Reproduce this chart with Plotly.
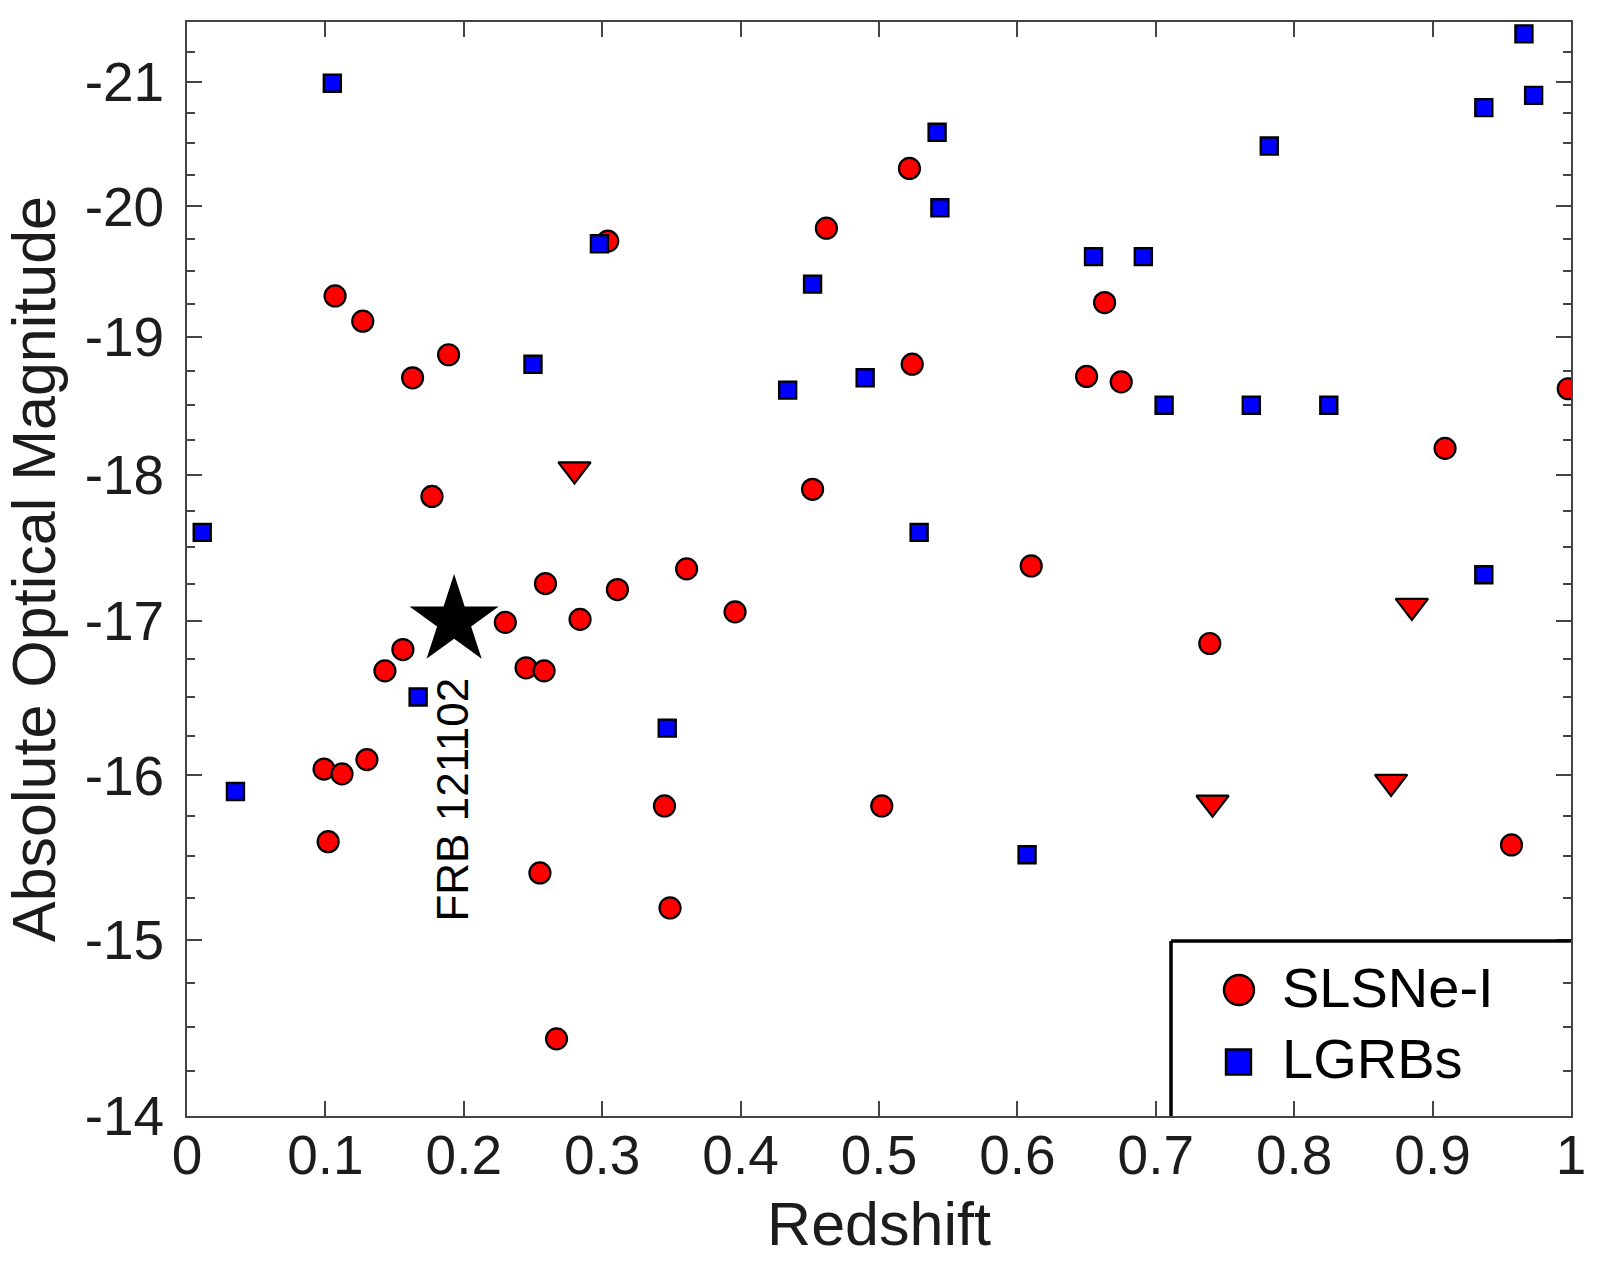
import math
import plotly.graph_objects as go

# ---------------- data ----------------
slsn_z = [0.107, 0.127, 0.189, 0.163, 0.177, 0.304, 0.462, 0.522, 0.663, 0.524,
          0.650, 0.675, 0.998, 0.909, 0.452, 0.361, 0.610, 0.259, 0.311, 0.230,
          0.284, 0.396, 0.156, 0.143, 0.245, 0.258, 0.739, 0.099, 0.112, 0.130,
          0.102, 0.345, 0.502, 0.255, 0.349, 0.957, 0.267]
slsn_M = [-19.31, -19.12, -18.87, -18.70, -17.85, -19.73, -19.83, -20.30, -19.26, -18.80,
          -18.71, -18.67, -18.62, -18.19, -17.90, -17.35, -17.37, -17.25, -17.21, -16.99,
          -17.01, -17.06, -16.81, -16.67, -16.69, -16.67, -16.85, -16.04, -16.01, -16.10,
          -15.59, -15.81, -15.81, -15.40, -15.19, -15.57, -14.43]

lgrb_z = [0.105, 0.966, 0.937, 0.973, 0.542, 0.782, 0.544, 0.298, 0.655, 0.691,
          0.452, 0.250, 0.434, 0.490, 0.706, 0.769, 0.825, 0.011, 0.529, 0.937,
          0.167, 0.347, 0.035, 0.607]
lgrb_M = [-20.99, -21.40, -20.79, -20.89, -20.59, -20.48, -19.99, -19.71, -19.61, -19.61,
          -19.40, -18.80, -18.61, -18.70, -18.50, -18.50, -18.50, -17.60, -17.60, -17.31,
          -16.50, -16.30, -15.90, -15.51]

limit_z = [0.280, 0.885, 0.870, 0.741]
limit_M = [-18.04, -17.10, -15.96, -15.83]

frb_z = [0.193]
frb_M = [-17.0]
frb_label = "FRB 121102"

y_ticks = [-14, -15, -16, -17, -18, -19, -20, -21]
y_minor = [-14.25, -14.5, -14.75, -15.25, -15.5, -15.75, -16.25, -16.5, -16.75,
           -17.25, -17.5, -17.75, -18.25, -18.5, -18.75, -19.25, -19.5, -19.75,
           -20.25, -20.5, -20.75, -21.25]
x_ticks = [0, 0.1, 0.2, 0.3, 0.4, 0.5, 0.6, 0.7, 0.8, 0.9, 1]
x_ticktext = ["0", "0.1", "0.2", "0.3", "0.4", "0.5", "0.6", "0.7", "0.8", "0.9", "1"]

legend_names = ["SLSNe-I", "LGRBs"]

# ---------------- figure ----------------
W, H = 1598, 1269
L, R, T, B = 187, 27, 22, 153
FONT = "Liberation Sans, Arial, Helvetica, sans-serif"
TXT = "#1e1b1c"

def neg(v):
    return [-m for m in v]

fig = go.Figure()
fig.add_trace(go.Scatter(x=slsn_z, y=neg(slsn_M), mode="markers", name=legend_names[0],
                         marker=dict(symbol="circle", size=21, color="#ff0000",
                                     line=dict(color="black", width=2.2)),
                         showlegend=False))
fig.add_trace(go.Scatter(x=limit_z, y=neg(limit_M), mode="markers", name="SLSNe-I (limits)",
                         marker=dict(symbol="triangle-down", size=28, color="#ff0000",
                                     line=dict(color="black", width=2.2)),
                         showlegend=False))
fig.add_trace(go.Scatter(x=lgrb_z, y=neg(lgrb_M), mode="markers", name=legend_names[1],
                         marker=dict(symbol="square", size=17, color="#0000ff",
                                     line=dict(color="black", width=2.4)),
                         showlegend=False))
fig.add_trace(go.Scatter(x=frb_z, y=neg(frb_M), mode="markers", name=frb_label,
                         marker=dict(symbol="star", size=67, color="black",
                                     line=dict(color="black", width=0)),
                         showlegend=False))

# FRB label (rotated)
fig.add_annotation(x=0.1915, y=math.log10(15.85), xref="x", yref="y",
                   text=frb_label, textangle=-90, showarrow=False,
                   font=dict(family=FONT, size=44, color="black"))

plot_w = W - L - R
plot_h = H - T - B

def px_x(p):
    return (p - L) / plot_w

def px_y(p):
    return (H - B - p) / plot_h

# custom legend box (left and top edges only, as in the reference)
lx, ly = px_x(1171), px_y(941)
fig.add_shape(type="line", xref="paper", yref="paper", x0=lx, x1=lx, y0=0, y1=ly,
              line=dict(color="black", width=3.5))
fig.add_shape(type="line", xref="paper", yref="paper", x0=lx, x1=1, y0=ly, y1=ly,
              line=dict(color="black", width=3.5))
fig.add_shape(type="circle", xref="paper", yref="paper", xsizemode="pixel", ysizemode="pixel",
              xanchor=px_x(1239), yanchor=px_y(990), x0=-15, x1=15, y0=-15, y1=15,
              fillcolor="#ff0000", line=dict(color="black", width=2.4))
fig.add_shape(type="rect", xref="paper", yref="paper", xsizemode="pixel", ysizemode="pixel",
              xanchor=px_x(1238.5), yanchor=px_y(1062), x0=-12.5, x1=12.5, y0=-12.5, y1=12.5,
              fillcolor="#0000ff", line=dict(color="black", width=2.4))
for name, yy in zip(legend_names, [987, 1058]):
    fig.add_annotation(x=px_x(1280), y=px_y(yy), xref="paper", yref="paper",
                       xanchor="left", yanchor="middle", text=name, showarrow=False,
                       font=dict(family=FONT, size=56, color="black"))

axis_common = dict(showline=True, linecolor="#444", linewidth=1.6, mirror="ticks",
                   ticks="inside", tickcolor="#444", tickwidth=1.6, ticklen=15,
                   showgrid=False, zeroline=False,
                   tickfont=dict(family=FONT, size=55, color=TXT))

fig.update_xaxes(range=[0, 1], tickmode="array", tickvals=x_ticks, ticktext=x_ticktext,
                 title=dict(text="Redshift", font=dict(family=FONT, size=61, color=TXT), standoff=18),
                 ticklabelstandoff=-10, automargin=False, **axis_common)
fig.update_yaxes(type="log", range=[math.log10(14), math.log10(21.5)],
                 tickmode="array", tickvals=neg(y_ticks), ticktext=[str(v) for v in y_ticks],
                 minor=dict(tickmode="array", tickvals=neg(y_minor), ticks="inside",
                            ticklen=8, tickcolor="#444", tickwidth=1.6, showgrid=False),
                 title=dict(text="Absolute Optical Magnitude",
                            font=dict(family=FONT, size=61, color=TXT), standoff=10),
                 ticklabelstandoff=10, automargin=False, **axis_common)

fig.update_layout(width=W, height=H, margin=dict(l=L, r=R, t=T, b=B),
                  plot_bgcolor="white", paper_bgcolor="white", showlegend=False)

fig.write_html("out.html")
